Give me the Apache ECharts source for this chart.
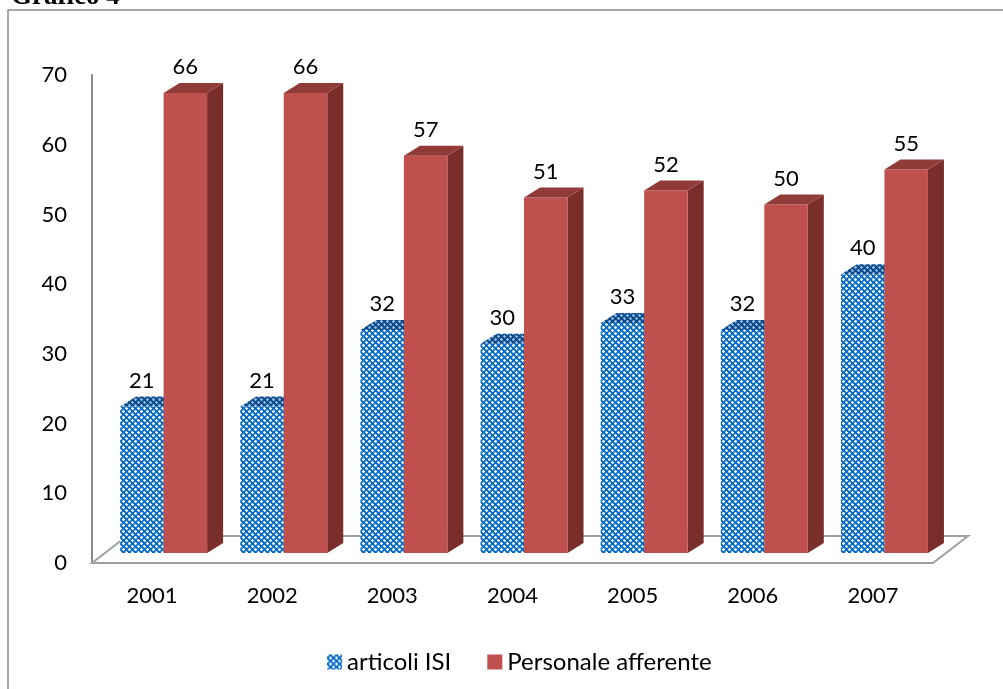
<!DOCTYPE html>
<html>
<head>
<meta charset="utf-8">
<title>Grafico 4</title>
<script src="https://cdn.jsdelivr.net/npm/echarts@6/dist/echarts.min.js"></script>
<style>
  html, body { margin: 0; padding: 0; background: #fff; }
  #chart { width: 1003px; height: 689px; }
</style>
</head>
<body>
<div id="chart"></div>
<script>
// dati
var anni = ['2001', '2002', '2003', '2004', '2005', '2006', '2007'];
var articoliISI = [21, 21, 32, 30, 33, 32, 40];
var personaleAfferente = [66, 66, 57, 51, 52, 50, 55];
var nomiSerie = ['articoli ISI', 'Personale afferente'];

// trama a crocette per le barre blu
function trama(blu, chiaro, medio) {
	var c = document.createElement('canvas');
	c.width = 6; c.height = 6;
	var ctx = c.getContext('2d');
	ctx.fillStyle = blu;
	ctx.fillRect(0, 0, 6, 6);
	ctx.fillStyle = chiaro;
	[[3, 2], [2, 3], [3, 3], [4, 3], [3, 4], [0, 0], [1, 0], [5, 0], [0, 1], [0, 5]].forEach(function (p) {
		ctx.fillRect(p[0], p[1], 1, 1);
	});
	ctx.fillStyle = medio;
	[[2, 2], [4, 4], [2, 4], [4, 2], [1, 1], [5, 5]].forEach(function (p) {
		ctx.fillRect(p[0], p[1], 1, 1);
	});
	return { image: c, repeat: 'repeat' };
}
var bluFronte = trama('#0a6cc8', '#eef6fd', '#5da3e3');
var bluSopra = trama('#0a4a8a', '#8db4dc', '#3a73ad');

var rossoFronte = '#c0504d';
var rossoSopra = '#913b39';
var rossoLato = '#7a2e2c';

var fontTesto = 'Lato, "Open Sans", sans-serif';

function barra3d(lato, colori) {
	return function (params, api) {
		var i = api.value(0);
		var v = api.value(1);
		var p = api.coord([i, v]);
		var b = api.coord([i, 0]);
		var banda = api.size([1, 0])[0];
		var w = banda * 0.362;
		var ox = banda * 0.096;
		var x0 = lato === 0 ? p[0] + ox - w : p[0] + ox;
		var yT = p[1] - 10;
		var yB = b[1] - 10;
		var dx = 16, dy = 10;
		var figli = [];
		figli.push({
			type: 'polygon',
			shape: { points: [[x0 + w, yT], [x0 + w + dx, yT - dy], [x0 + w + dx, yB - dy], [x0 + w, yB]] },
			style: { fill: colori.lato }
		});
		figli.push({
			type: 'rect',
			shape: { x: x0, y: yT, width: w, height: yB - yT },
			style: { fill: colori.fronte }
		});
		figli.push({
			type: 'polygon',
			shape: { points: [[x0, yT], [x0 + w, yT], [x0 + w + dx, yT - dy], [x0 + dx, yT - dy]] },
			style: { fill: colori.sopra }
		});
		figli.push({
			type: 'text',
			style: {
				text: String(v),
				x: x0 + w / 2,
				y: yT - dy - 16,
				align: 'center',
				verticalAlign: 'middle',
				fill: '#000',
				font: '22px ' + fontTesto
			}
		});
		return { type: 'group', children: figli };
	};
}

var chart = echarts.init(document.getElementById('chart'));
var option = {
	animation: false,
	backgroundColor: '#fff',
	graphic: [
		{
			type: 'rect',
			shape: { x: 8, y: 10, width: 1100, height: 800 },
			style: { fill: 'none', stroke: '#8a8a8a', lineWidth: 1.5 },
			z: 0
		},
		{
			type: 'text',
			left: 11,
			top: -16,
			style: { text: 'Grafico 4', font: 'bold 27px "Liberation Serif", serif', fill: '#000' }
		}
	],
	legend: {
		left: 322,
		top: 645,
		icon: 'rect',
		itemWidth: 15,
		itemHeight: 15,
		itemGap: 36,
		textStyle: { fontSize: 24, fontFamily: fontTesto, color: '#000' },
		data: [
			{ name: nomiSerie[0], itemStyle: { color: bluFronte } },
			{ name: nomiSerie[1], itemStyle: { color: rossoFronte } }
		]
	},
	grid: { left: 92, right: 70, top: 75, bottom: 126 },
	xAxis: {
		type: 'category',
		data: anni,
		axisLine: { show: false },
		axisTick: { show: false },
		axisLabel: { margin: 22, fontSize: 22, fontFamily: fontTesto, color: '#000' }
	},
	yAxis: {
		type: 'value',
		min: 0,
		max: 70,
		interval: 10,
		splitLine: { show: false },
		axisTick: { show: false },
		axisLine: { show: true, lineStyle: { color: '#8a8a8a', width: 2 } },
		axisLabel: { margin: 25, fontSize: 22, fontFamily: fontTesto, color: '#000' }
	},
	series: [
		{
			name: 'pavimento',
			type: 'custom',
			clip: false,
			silent: true,
			data: [[0, 0]],
			renderItem: function (params, api) {
				var cs = params.coordSys;
				var yb = cs.y + cs.height;
				return {
					type: 'polygon',
					shape: { points: [[cs.x, yb], [cs.x + cs.width, yb], [cs.x + cs.width + 35, yb - 27], [cs.x + 35, yb - 27]] },
					style: { fill: '#fff', stroke: '#a0a0a0', lineWidth: 2 }
				};
			}
		},
		{
			name: nomiSerie[0],
			type: 'custom',
			clip: false,
			itemStyle: { color: bluFronte },
			encode: { x: 0, y: 1 },
			data: articoliISI.map(function (v, i) { return [i, v]; }),
			renderItem: barra3d(0, { fronte: bluFronte, sopra: bluSopra, lato: bluSopra })
		},
		{
			name: nomiSerie[1],
			type: 'custom',
			clip: false,
			itemStyle: { color: rossoFronte },
			encode: { x: 0, y: 1 },
			data: personaleAfferente.map(function (v, i) { return [i, v]; }),
			renderItem: barra3d(1, { fronte: rossoFronte, sopra: rossoSopra, lato: rossoLato })
		}
	]
};
chart.setOption(option);
</script>
</body>
</html>
